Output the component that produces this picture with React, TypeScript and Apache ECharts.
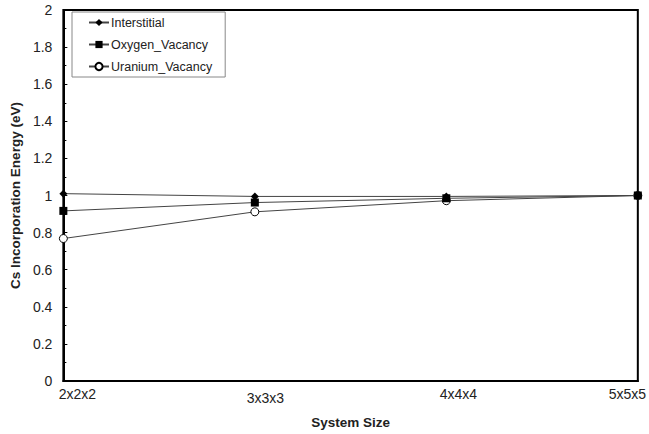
import React, { useEffect, useRef } from "react";
import * as echarts from "echarts";

const categories = ["2x2x2", "3x3x3", "4x4x4", "5x5x5"];
const interstitial = [1.01, 0.995, 0.995, 1.0];
const oxygenVacancy = [0.917, 0.962, 0.985, 1.0];
const uraniumVacancy = [0.768, 0.912, 0.972, 1.0];
const yTicks = [0, 0.2, 0.4, 0.6, 0.8, 1, 1.2, 1.4, 1.6, 1.8, 2];

const baseLabel = { fontSize: 14, color: "#222", fontFamily: "Liberation Sans" };
const labelStyles: Record<string, any> = {
  l0: { ...baseLabel, padding: [0, 0, 0, 28] },
  l1: { ...baseLabel, padding: [4, 0, 0, 21] },
  l2: { ...baseLabel, padding: [0, 0, 0, 24] },
  l3: { ...baseLabel, padding: [0, 21, 0, 0] },
};

export default function App() {
  const ref = useRef<HTMLDivElement>(null);
  useEffect(() => {
    const chart = echarts.init(ref.current!, null, { renderer: "svg" });
    const lineStyle = { color: "#444", width: 1 };
    chart.setOption({
      animation: false,
      textStyle: { fontFamily: "Liberation Sans" },
      grid: {
        left: 63,
        right: 11,
        top: 10,
        bottom: 50,
        show: true,
        borderColor: "#000",
        borderWidth: 2,
      },
      legend: {
        orient: "vertical",
        left: 72,
        top: 12,
        borderColor: "#888",
        borderWidth: 1,
        padding: [4, 13, 4, 16],
        itemGap: 9,
        itemWidth: 20,
        itemHeight: 9,
        textStyle: {
          fontSize: 12.5,
          color: "#222",
          fontFamily: "Liberation Sans",
          padding: [0, 0, 0, -3],
        },
        data: ["Interstitial", "Oxygen_Vacancy", "Uranium_Vacancy"],
      },
      xAxis: {
        type: "category",
        data: categories,
        boundaryGap: false,
        name: "System Size",
        nameLocation: "middle",
        nameGap: 34,
        nameTextStyle: { fontWeight: "bold", fontSize: 13.5, color: "#222" },
        axisLine: { lineStyle: { color: "#000", width: 2 } },
        axisTick: { show: false },
        axisLabel: {
          margin: 6,
          formatter: (v: string) => {
            const i = categories.indexOf(v);
            return `{l${i}|${v}}`;
          },
          rich: labelStyles,
        },
        splitLine: { show: false },
      },
      yAxis: {
        type: "value",
        min: yTicks[0],
        max: yTicks[yTicks.length - 1],
        interval: 0.2,
        name: "Cs Incorporation Energy (eV)",
        nameLocation: "middle",
        nameGap: 34,
        nameTextStyle: { fontWeight: "bold", fontSize: 13.5, color: "#222" },
        axisLine: { show: true, lineStyle: { color: "#000", width: 2 } },
        axisTick: { show: true, inside: true, length: 4, lineStyle: { color: "#000" } },
        minorTick: { show: true, splitNumber: 2, length: 3, lineStyle: { color: "#000" } },
        axisLabel: {
          fontSize: 14,
          color: "#222",
          margin: 11,
          formatter: (v: number) => String(Math.round(v * 10) / 10),
        },
        splitLine: { show: false },
      },
      series: [
        {
          name: "Interstitial",
          type: "line",
          data: interstitial,
          symbol: "diamond",
          symbolSize: 8,
          itemStyle: { color: "#000" },
          lineStyle,
          z: 3,
        },
        {
          name: "Oxygen_Vacancy",
          type: "line",
          data: oxygenVacancy,
          symbol: "rect",
          symbolSize: 8,
          itemStyle: { color: "#000" },
          lineStyle,
          z: 2,
        },
        {
          name: "Uranium_Vacancy",
          type: "line",
          data: uraniumVacancy,
          symbol: "circle",
          symbolSize: 8,
          itemStyle: { color: "#fff", borderColor: "#000", borderWidth: 1 },
          lineStyle,
          z: 1,
        },
      ],
    });
    return () => chart.dispose();
  }, []);
  return (
    <div
      ref={ref}
      style={{ width: 649, height: 434, position: "absolute", left: 0, top: 0 }}
    />
  );
}
